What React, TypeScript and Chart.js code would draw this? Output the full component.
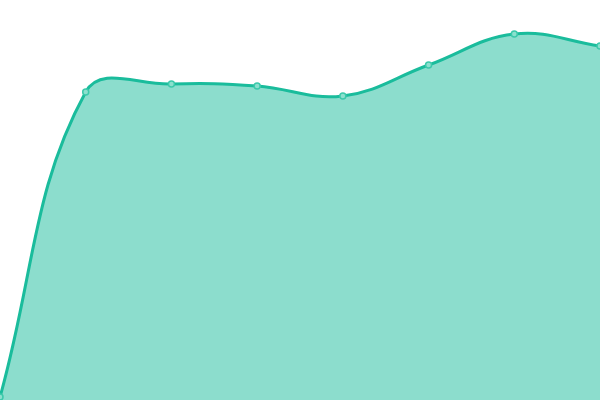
import { useEffect, useRef } from 'react'
import { Chart, registerables } from 'chart.js'

Chart.register(...registerables)

const labels = ['1', '2', '3', '4', '5', '6', '7', '8']
const values = [3, 308, 316, 314, 304, 335, 366, 354]

export default function App() {
  const canvasRef = useRef<HTMLCanvasElement>(null)

  useEffect(() => {
    if (!canvasRef.current) return
    const chart = new Chart(canvasRef.current, {
      type: 'line',
      data: {
        labels,
        datasets: [{
          data: values,
          fill: true,
          backgroundColor: 'rgba(26,188,156,0.5)',
          borderColor: '#1abc9c',
          borderWidth: 3,
          tension: 0.4,
          pointRadius: 3,
          pointBackgroundColor: 'rgba(140,224,206,1)',
          pointBorderColor: '#3cc9ab',
          pointBorderWidth: 1.5,
        }],
      },
      options: {
        responsive: true,
        maintainAspectRatio: false,
        animation: false,
        layout: { padding: 0, autoPadding: false },
        plugins: { legend: { display: false }, tooltip: { enabled: false } },
        scales: {
          x: { display: false, offset: false },
          y: { display: false, min: 0, max: 400 },
        },
      },
    } as any)
    return () => chart.destroy()
  }, [])

  return (
    <div style={{ position: 'fixed', left: 0, top: 0, width: 600, height: 400 }}>
      <canvas ref={canvasRef} />
    </div>
  )
}
